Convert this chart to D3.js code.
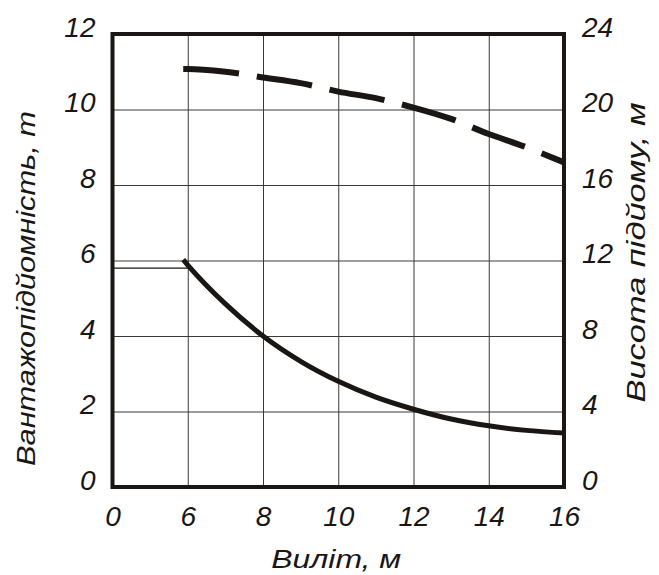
<!DOCTYPE html>
<html>
<head>
<meta charset="utf-8">
<script src="https://cdn.jsdelivr.net/npm/d3@7"></script>
<style>
  body { margin: 0; background: #fff; }
  text { font-family: "Liberation Sans", Arial, sans-serif; font-style: italic; fill: #1a1614; }
</style>
</head>
<body>
<div id="chart"></div>
<script>
// reach, m (the left edge of the frame is a broken axis: value 4 is labelled "0")
var xTicks = [4, 6, 8, 10, 12, 14, 16];
var xLabels = ["0", "6", "8", "10", "12", "14", "16"];
var yTicks = [0, 2, 4, 6, 8, 10, 12];
var y2Ticks = [0, 4, 8, 12, 16, 20, 24];

var reach = [5.88, 6, 7, 8, 9, 10, 11, 12, 13, 14, 15, 16];
var capacity = [6.02, 5.88, 4.85, 4.0, 3.33, 2.8, 2.38, 2.06, 1.8, 1.62, 1.5, 1.43];
var liftHeight = [22.15, 22.15, 22.0, 21.7, 21.4, 20.95, 20.6, 20.1, 19.5, 18.7, 18.0, 17.2];

var capLevel = 5.8;  // short reference line at the left

var margin = {top: 34, right: 95, bottom: 88, left: 112.5},
    outerWidth = 659,
    outerHeight = 575,
    width = outerWidth - margin.left - margin.right,
    height = outerHeight - margin.top - margin.bottom;

var x = d3.scaleLinear().domain([4, 16]).range([0, width]);
var y = d3.scaleLinear().domain([0, 12]).range([height, 0]);
var y2 = d3.scaleLinear().domain([0, 24]).range([height, 0]);

var svg = d3.select("#chart")
    .append("svg")
        .attr("width", outerWidth)
        .attr("height", outerHeight)
    .append("g")
        .attr("transform", "translate(" + margin.left + "," + margin.top + ")");

// grid
svg.append("g")
    .attr("class", "grid")
    .call(d3.axisBottom(x).tickValues(xTicks.slice(1, -1)).tickSize(height).tickFormat(""))
    .call(function(g) { g.select(".domain").remove(); })
    .selectAll("line").attr("stroke", "#3a3a3a").attr("stroke-width", 1);

svg.append("g")
    .attr("class", "grid")
    .call(d3.axisLeft(y).tickValues(yTicks.slice(1, -1)).tickSize(-width).tickFormat(""))
    .call(function(g) { g.select(".domain").remove(); })
    .selectAll("line").attr("stroke", "#3a3a3a").attr("stroke-width", 1);

// short reference line
svg.append("line")
    .attr("x1", x(4)).attr("x2", x(6))
    .attr("y1", y(capLevel)).attr("y2", y(capLevel))
    .attr("stroke", "#1a1614")
    .attr("stroke-width", 1.3);

// tick labels
var xAxis = svg.append("g")
    .attr("transform", "translate(0," + height + ")")
    .call(d3.axisBottom(x).tickValues(xTicks).tickSize(0).tickPadding(19.5)
        .tickFormat(function(d, i) { return xLabels[i]; }));
xAxis.select(".domain").remove();

var yAxis = svg.append("g")
    .call(d3.axisLeft(y).tickValues(yTicks).tickSize(0).tickPadding(17));
yAxis.select(".domain").remove();

var y2Axis = svg.append("g")
    .attr("transform", "translate(" + width + ",0)")
    .call(d3.axisRight(y2).tickValues(y2Ticks).tickSize(0).tickPadding(18));
y2Axis.select(".domain").remove();

svg.selectAll(".tick text")
    .style("font-size", "28px")
    .style("font-family", "'Liberation Sans', Arial, sans-serif")
    .style("font-style", "italic")
    .attr("fill", "#1a1614");
yAxis.selectAll("text").attr("dy", "0.08em");
y2Axis.selectAll("text").attr("dy", "0.08em");

// curves
var capLine = d3.line()
    .x(function(d, i) { return x(reach[i]); })
    .y(function(d) { return y(d); })
    .curve(d3.curveMonotoneX);

var heightLine = d3.line()
    .x(function(d, i) { return x(reach[i]); })
    .y(function(d) { return y2(d); })
    .curve(d3.curveMonotoneX);

svg.append("path")
    .datum(capacity)
    .attr("d", capLine)
    .attr("fill", "none")
    .attr("stroke", "#1a1614")
    .attr("stroke-width", 5);

svg.append("path")
    .datum(liftHeight)
    .attr("d", heightLine)
    .attr("fill", "none")
    .attr("stroke", "#1a1614")
    .attr("stroke-width", 6)
    .attr("stroke-dasharray", "56,18");

// frame
svg.append("rect")
    .attr("width", width)
    .attr("height", height)
    .attr("fill", "none")
    .attr("stroke", "#1a1614")
    .attr("stroke-width", 4);

// axis titles (the original lettering is wider than Liberation Sans, so stretch it)
svg.append("text")
    .attr("x", width / 2 - 2)
    .attr("y", height + 81)
    .attr("text-anchor", "middle")
    .attr("textLength", 130)
    .attr("lengthAdjust", "spacingAndGlyphs")
    .style("font-size", "25px")
    .text("Виліт, м");

svg.append("text")
    .attr("transform", "translate(" + (-margin.left + 35) + "," + (height / 2 + 28) + ") rotate(-90)")
    .attr("text-anchor", "middle")
    .attr("textLength", 355)
    .attr("lengthAdjust", "spacingAndGlyphs")
    .style("font-size", "25px")
    .text("Вантажопідйомність, т");

svg.append("text")
    .attr("transform", "translate(" + (width + 81) + "," + (height / 2 - 8) + ") rotate(-90)")
    .attr("text-anchor", "middle")
    .attr("textLength", 300)
    .attr("lengthAdjust", "spacingAndGlyphs")
    .style("font-size", "25px")
    .text("Висота підйому, м");
</script>
</body>
</html>
